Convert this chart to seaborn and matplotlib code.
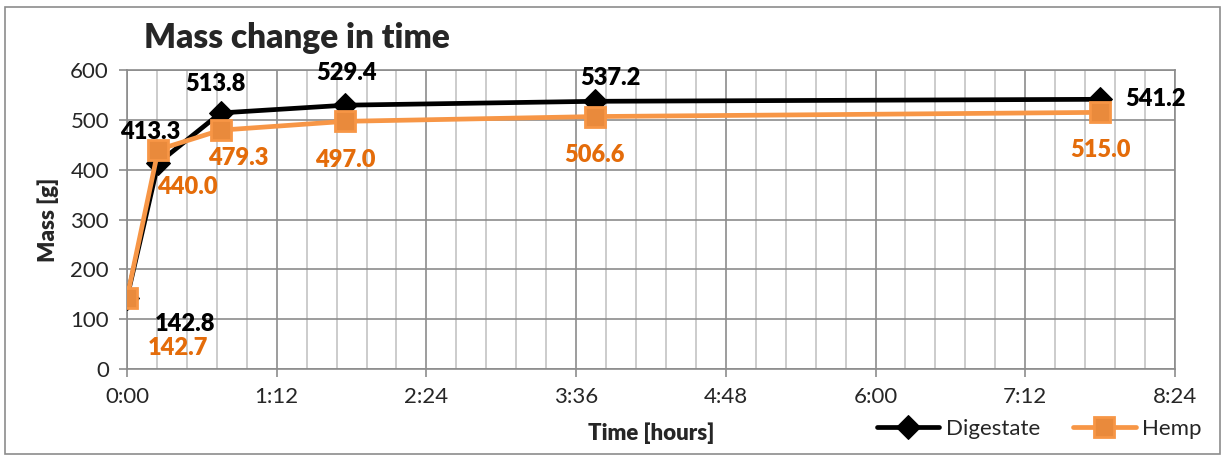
import numpy as np
import pandas as pd
import matplotlib
matplotlib.use("Agg")
import matplotlib.pyplot as plt
import matplotlib.ticker as mticker
import seaborn as sns

# time in hours
time_h = [0.0, 0.25, 0.75, 1.75, 3.75, 7.8]
digestate = [142.8, 413.3, 513.8, 529.4, 537.2, 541.2]
hemp = [142.7, 440.0, 479.3, 497.0, 506.6, 515.0]

sns.set_style("white")
plt.rcParams['font.family'] = ['Lato', 'DejaVu Sans']

fig = plt.figure(figsize=(12.27, 4.59), dpi=100)
ax = fig.add_axes([0.1035, 0.196, 0.8541, 0.6515])

df = pd.DataFrame({"time": time_h, "Digestate": digestate, "Hemp": hemp})

sns.lineplot(data=df, x="time", y="Digestate", ax=ax, color="black", lw=3.4,
             marker="D", markersize=12, markeredgecolor="black", label="Digestate", zorder=4)
sns.lineplot(data=df, x="time", y="Hemp", ax=ax, color="#F79646", lw=3.4,
             marker="s", markersize=15, markerfacecolor="#E98A3C", markeredgecolor="#F79646",
             markeredgewidth=2, label="Hemp", zorder=5)

ax.set_xlim(0, 8.4)
ax.set_ylim(0, 600)
ax.xaxis.set_major_locator(mticker.MultipleLocator(1.2))
ax.xaxis.set_minor_locator(mticker.MultipleLocator(0.24))
ax.yaxis.set_major_locator(mticker.MultipleLocator(100))


def hm(v, pos):
    m = int(round(v * 60))
    return f"{m // 60}:{m % 60:02d}"


ax.xaxis.set_major_formatter(mticker.FuncFormatter(hm))
ax.grid(True, which="major", color="#8C8C8C", lw=1.2)
ax.grid(True, which="minor", axis="x", color="#C4C4C4", lw=1.2)
ax.set_axisbelow(True)
for s in ax.spines.values():
    s.set_color("#8C8C8C")
    s.set_linewidth(1.2)
ax.tick_params(axis="both", which="major", labelsize=16, length=6, width=1.2,
               color="#8C8C8C", direction="out", bottom=True, left=True, pad=7)
ax.tick_params(axis="x", which="minor", length=0)

ax.set_xlabel("Time [hours]", fontsize=16, fontweight="heavy", labelpad=11)
ax.set_ylabel("Mass [g]", fontsize=16, fontweight="heavy", labelpad=8)
fig.text(0.117, 0.918, "Mass change in time", fontsize=24, fontweight="heavy", va="center")

# data labels (offsets in points)
d_off = [(42, -19), (-6, 22), (-4, 21), (1, 23), (11, 17), (40, 0)]
h_off = [(37, -36), (21, -27), (13, -20), (0, -28), (0, -28), (0, -27)]
for x, y, o in zip(time_h, digestate, d_off):
    ax.annotate(f"{y:.1f}", (x, y), xytext=o, textcoords="offset points",
                ha="center", va="center", fontsize=17, fontweight="heavy", color="black", zorder=6)
for x, y, o in zip(time_h, hemp, h_off):
    ax.annotate(f"{y:.1f}", (x, y), xytext=o, textcoords="offset points",
                ha="center", va="center", fontsize=17, fontweight="heavy", color="#E46C0A", zorder=6)

ax.get_legend().remove()
h, l = ax.get_legend_handles_labels()
fig.legend(h, l, loc="center", bbox_to_anchor=(0.847, 0.066), ncol=2, frameon=False,
           fontsize=16, handlelength=2.8, columnspacing=1.5, handletextpad=0.3)

fig.patches.append(plt.Rectangle((0.004, 0.01), 0.99, 0.975, transform=fig.transFigure,
                                 fill=False, edgecolor="#8C8C8C", lw=1.2))

fig.savefig("out.png", dpi=100)
